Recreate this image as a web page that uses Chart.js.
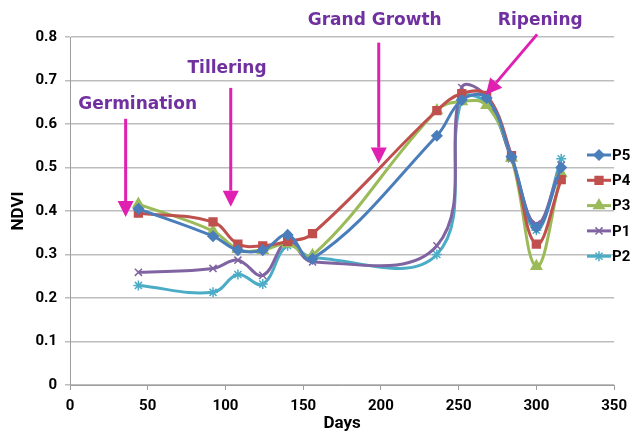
<!DOCTYPE html>
<html lang="en">
<head>
    <meta charset="UTF-8">
    <title>NDVI by Days</title>
    <script src="https://cdn.jsdelivr.net/npm/chart.js"></script>
    <style>
        html, body {
            margin: 0;
            padding: 0;
            background: #ffffff;
        }
        .chart-container {
            width: 634px;
            height: 434px;
        }
    </style>
</head>
<body>

    <div class="chart-container">
        <canvas id="ndviChart" width="634" height="434"></canvas>
    </div>

    <script>
        // Days of acquisition
        const days = [44, 92, 108, 124, 140, 156, 236, 252, 268, 284, 300, 316];

        // NDVI per plot
        const p5 = [0.405, 0.342, 0.31, 0.31, 0.345, 0.29, 0.573, 0.655, 0.66, 0.525, 0.362, 0.5];
        const p4 = [0.395, 0.375, 0.324, 0.32, 0.33, 0.348, 0.631, 0.67, 0.666, 0.527, 0.324, 0.472];
        const p3 = [0.416, 0.354, 0.312, 0.31, 0.325, 0.298, 0.631, 0.652, 0.643, 0.522, 0.273, 0.486];
        const p1 = [0.259, 0.268, 0.287, 0.252, 0.33, 0.283, 0.32, 0.684, 0.662, 0.52, 0.37, 0.505];
        const p2 = [0.229, 0.213, 0.254, 0.232, 0.32, 0.293, 0.3, 0.657, 0.648, 0.52, 0.356, 0.52];

        const seriesNames = ['P5', 'P4', 'P3', 'P1', 'P2'];
        const xTicks = [0, 50, 100, 150, 200, 250, 300, 350];
        const yTicks = [0, 0.1, 0.2, 0.3, 0.4, 0.5, 0.6, 0.7, 0.8];

        // Growth stage labels (text position and arrow, in days / NDVI)
        const stageNames = ['Germination', 'Tillering', 'Grand Growth', 'Ripening'];
        const stageTextAt = [[43.5, 0.645], [101, 0.727], [196, 0.838], [302.5, 0.838]];
        const stageArrowFrom = [[35.8, 0.612], [103.4, 0.683], [198.6, 0.787], [300.5, 0.806]];
        const stageArrowTo = [[35.8, 0.386], [103.4, 0.41], [198.6, 0.509], [267.5, 0.667]];

        const colors = ['#4a7ebb', '#c0504d', '#9bbb59', '#8064a2', '#4bacc6'];
        const markers = ['rectRot', 'rect', 'triangle', 'crossRot', 'star'];
        const markerSize = [5, 5.5, 6, 5, 5];

        const values = [p5, p4, p3, p1, p2];

        const datasets = seriesNames.map((name, i) => ({
            label: name,
            data: days.map((d, j) => ({ x: d, y: values[i][j] })),
            borderColor: colors[i],
            backgroundColor: colors[i],
            pointBorderColor: colors[i],
            pointBackgroundColor: colors[i],
            pointStyle: markers[i],
            pointRadius: markerSize[i],
            pointBorderWidth: 1.5,
            borderWidth: 3,
            tension: 0.4,
            fill: false,
            order: i
        }));

        const boldFont = '"Roboto", "Liberation Sans", sans-serif';
        const stageFont = 'bold 17px "DejaVu Sans", Verdana, sans-serif';

        // stage labels + arrows and the right-hand legend
        const extrasPlugin = {
            id: 'extras',
            afterDatasetsDraw(chart) {
                const ctx = chart.ctx;
                const xs = chart.scales.x;
                const ys = chart.scales.y;

                ctx.save();
                for (let i = 0; i < stageNames.length; i++) {
                    const x1 = xs.getPixelForValue(stageArrowFrom[i][0]);
                    const y1 = ys.getPixelForValue(stageArrowFrom[i][1]);
                    const x2 = xs.getPixelForValue(stageArrowTo[i][0]);
                    const y2 = ys.getPixelForValue(stageArrowTo[i][1]);
                    const ang = Math.atan2(y2 - y1, x2 - x1);
                    const headLen = 16;
                    const headHalf = 8;
                    const bx = x2 - headLen * Math.cos(ang);
                    const by = y2 - headLen * Math.sin(ang);

                    ctx.strokeStyle = '#e020b0';
                    ctx.fillStyle = '#e020b0';
                    ctx.lineWidth = 3;
                    ctx.beginPath();
                    ctx.moveTo(x1, y1);
                    ctx.lineTo(bx, by);
                    ctx.stroke();

                    ctx.beginPath();
                    ctx.moveTo(x2, y2);
                    ctx.lineTo(bx + headHalf * Math.sin(ang), by - headHalf * Math.cos(ang));
                    ctx.lineTo(bx - headHalf * Math.sin(ang), by + headHalf * Math.cos(ang));
                    ctx.closePath();
                    ctx.fill();

                    ctx.fillStyle = '#7030a0';
                    ctx.font = stageFont;
                    ctx.textAlign = 'center';
                    ctx.textBaseline = 'middle';
                    ctx.fillText(stageNames[i],
                        xs.getPixelForValue(stageTextAt[i][0]),
                        ys.getPixelForValue(stageTextAt[i][1]));
                }

                // legend
                const lx = 587;
                let ly = 155;
                chart.data.datasets.forEach((ds) => {
                    ctx.strokeStyle = ds.borderColor;
                    ctx.lineWidth = 3;
                    ctx.beginPath();
                    ctx.moveTo(lx, ly);
                    ctx.lineTo(lx + 24, ly);
                    ctx.stroke();

                    ctx.fillStyle = ds.backgroundColor;
                    ctx.lineWidth = 1.5;
                    Chart.helpers.drawPoint(ctx, {
                        pointStyle: ds.pointStyle,
                        radius: ds.pointRadius,
                        rotation: 0,
                        borderWidth: 1.5
                    }, lx + 12, ly);

                    ctx.fillStyle = '#000';
                    ctx.font = 'bold 15px ' + boldFont;
                    ctx.textAlign = 'left';
                    ctx.textBaseline = 'middle';
                    ctx.fillText(ds.label, lx + 25, ly + 1);
                    ly += 25.3;
                });
                ctx.restore();
            }
        };

        new Chart(document.getElementById('ndviChart').getContext('2d'), {
            type: 'line',
            data: { datasets: datasets },
            options: {
                responsive: false,
                animation: false,
                layout: {
                    padding: { top: 37, right: 14, bottom: 0, left: 0 }
                },
                plugins: {
                    legend: { display: false },
                    tooltip: { enabled: false }
                },
                scales: {
                    x: {
                        type: 'linear',
                        min: 0,
                        max: 350,
                        afterBuildTicks: (axis) => { axis.ticks = xTicks.map(v => ({ value: v })); },
                        afterFit: (axis) => { axis.height = 49; },
                        grid: {
                            drawOnChartArea: false,
                            drawTicks: true,
                            tickLength: 5,
                            color: '#9e9e9e'
                        },
                        border: { color: '#9e9e9e', width: 1 },
                        ticks: {
                            color: '#000',
                            padding: 7,
                            maxRotation: 0,
                            font: { family: boldFont, size: 15, weight: 'bold' }
                        },
                        title: {
                            display: true,
                            text: 'Days',
                            color: '#000',
                            padding: 0,
                            font: { family: boldFont, size: 17, weight: 'bold' }
                        }
                    },
                    y: {
                        min: 0,
                        max: 0.8,
                        afterBuildTicks: (axis) => { axis.ticks = yTicks.map(v => ({ value: v })); },
                        afterFit: (axis) => { axis.width = 70; },
                        grid: {
                            drawTicks: true,
                            tickLength: 5,
                            color: '#bdbdbd',
                            lineWidth: 1.5
                        },
                        border: { color: '#9e9e9e', width: 1 },
                        ticks: {
                            color: '#000',
                            padding: 8,
                            font: { family: boldFont, size: 15, weight: 'bold' },
                            callback: (v) => String(Math.round(v * 10) / 10)
                        },
                        title: {
                            display: true,
                            text: 'NDVI',
                            color: '#000',
                            padding: { top: 9, bottom: 0 },
                            font: { family: boldFont, size: 17, weight: 'bold' }
                        }
                    }
                }
            },
            plugins: [extrasPlugin]
        });
    </script>

</body>
</html>
